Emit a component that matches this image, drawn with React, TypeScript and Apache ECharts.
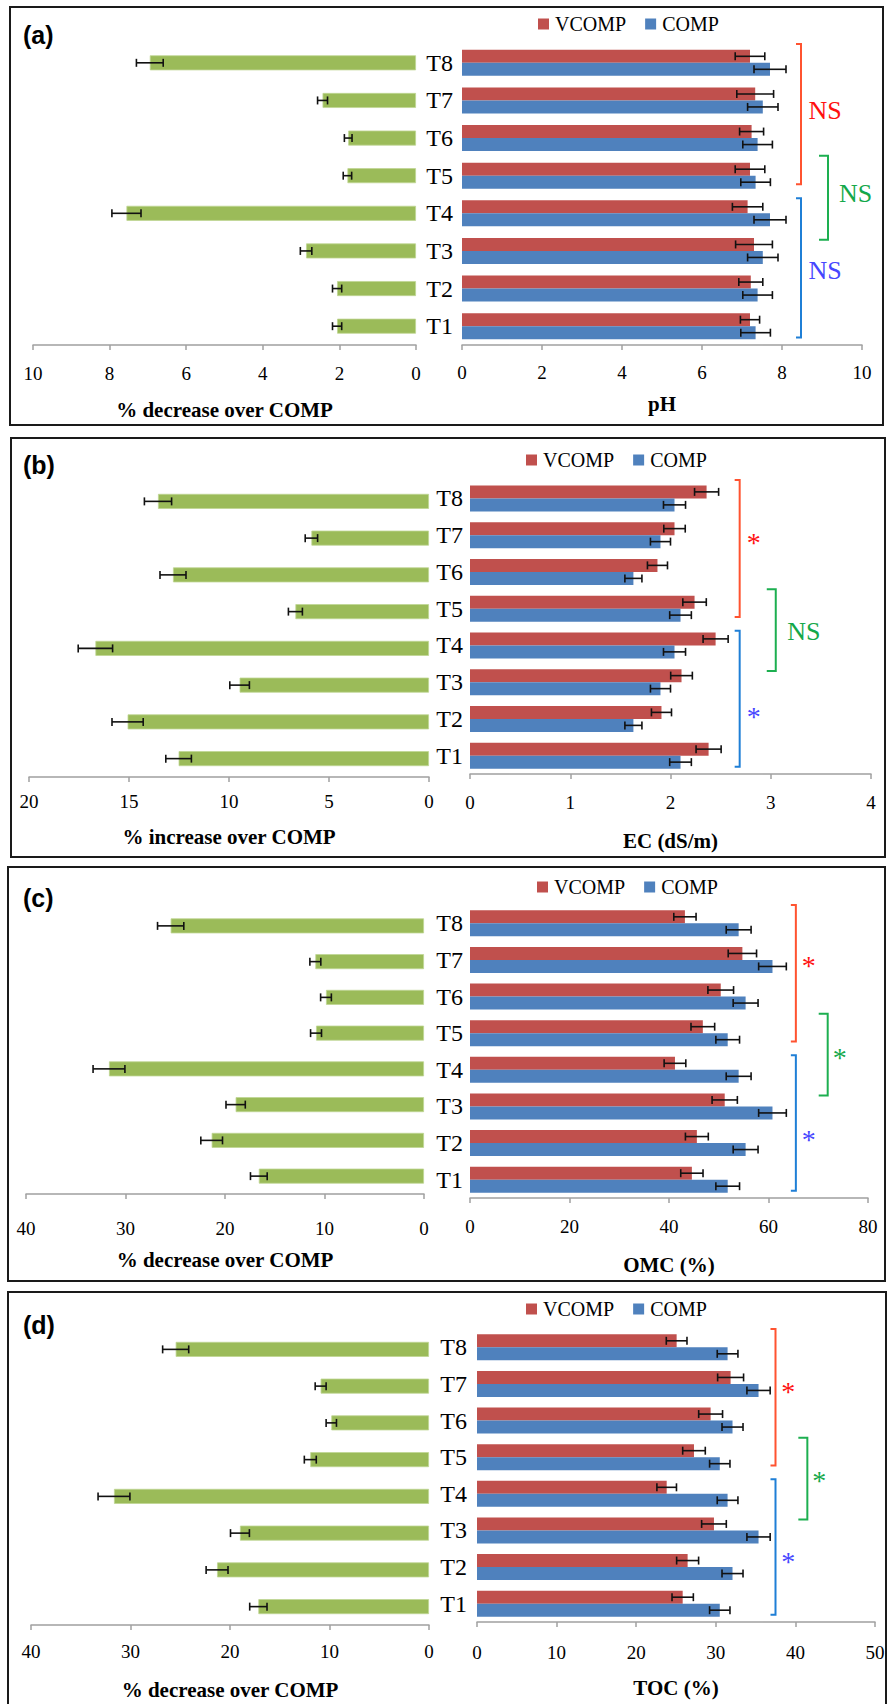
import React, { useEffect, useRef } from 'react';
import * as echarts from 'echarts';

const SERIF = '"Liberation Serif", "Times New Roman", serif';
const SANS = '"Liberation Sans", Arial, sans-serif';

const categories = ['T1', 'T2', 'T3', 'T4', 'T5', 'T6', 'T7', 'T8'];

// ---- panel (a) pH ----
const pctA = [2.06, 2.06, 2.87, 7.56, 1.79, 1.77, 2.44, 6.95];
const pctAErr = [0.12, 0.12, 0.15, 0.38, 0.11, 0.1, 0.13, 0.35];
const vcompA = [7.2, 7.22, 7.3, 7.14, 7.2, 7.24, 7.33, 7.2];
const vcompAErr = [0.24, 0.3, 0.46, 0.38, 0.37, 0.3, 0.46, 0.37];
const compA = [7.34, 7.39, 7.52, 7.7, 7.34, 7.39, 7.52, 7.7];
const compAErr = [0.37, 0.37, 0.38, 0.4, 0.37, 0.37, 0.38, 0.4];

// ---- panel (b) EC ----
const pctB = [12.52, 15.07, 9.47, 16.68, 6.68, 12.8, 5.88, 13.55];
const pctBErr = [0.64, 0.78, 0.49, 0.86, 0.35, 0.65, 0.31, 0.68];
const vcompB = [2.38, 1.91, 2.11, 2.45, 2.24, 1.87, 2.04, 2.36];
const vcompBErr = [0.125, 0.1, 0.108, 0.125, 0.117, 0.1, 0.107, 0.12];
const compB = [2.1, 1.63, 1.9, 2.04, 2.1, 1.63, 1.9, 2.04];
const compBErr = [0.108, 0.085, 0.1, 0.11, 0.108, 0.085, 0.1, 0.11];

// ---- panel (c) OMC ----
const pctC = [16.6, 21.34, 18.93, 31.66, 10.85, 9.85, 10.92, 25.46];
const pctCErr = [0.84, 1.09, 0.97, 1.6, 0.55, 0.54, 0.55, 1.32];
const vcompC = [44.6, 45.6, 51.2, 41.2, 46.8, 50.4, 54.75, 43.2];
const vcompCErr = [2.24, 2.3, 2.54, 2.18, 2.38, 2.58, 2.85, 2.24];
const compC = [51.8, 55.4, 60.8, 54.0, 51.8, 55.4, 60.8, 54.0];
const compCErr = [2.38, 2.5, 2.78, 2.5, 2.38, 2.5, 2.78, 2.5];

// ---- panel (d) TOC ----
const pctD = [17.15, 21.3, 19.0, 31.66, 11.93, 9.82, 10.89, 25.46];
const pctDErr = [0.87, 1.1, 0.95, 1.6, 0.6, 0.52, 0.55, 1.31];
const vcompD = [25.84, 26.46, 29.77, 23.83, 27.26, 29.35, 31.86, 25.08];
const vcompDErr = [1.34, 1.38, 1.55, 1.23, 1.42, 1.5, 1.63, 1.3];
const compD = [30.5, 32.1, 35.37, 31.48, 30.5, 32.1, 35.37, 31.48];
const compDErr = [1.28, 1.32, 1.46, 1.3, 1.28, 1.32, 1.46, 1.3];

const panelTags = ['(a)', '(b)', '(c)', '(d)'];
const leftTitles = ['% decrease over COMP', '% increase over COMP', '% decrease over COMP', '% decrease over COMP'];
const rightTitles = ['pH', 'EC (dS/m)', 'OMC (%)', 'TOC (%)'];
const leftMax = [10, 20, 40, 40];
const leftInterval = [2, 5, 10, 10];
const rightMax = [10, 4, 80, 50];
const rightInterval = [2, 1, 20, 10];
// significance labels: [red group T5–T8, green group T4–T5, blue group T1–T4]
const sigLabels = [
  ['NS', 'NS', 'NS'],
  ['*', 'NS', '*'],
  ['*', '*', '*'],
  ['*', '*', '*'],
];

const pctData = [pctA, pctB, pctC, pctD];
const pctErr = [pctAErr, pctBErr, pctCErr, pctDErr];
const vcompData = [vcompA, vcompB, vcompC, vcompD];
const vcompErr = [vcompAErr, vcompBErr, vcompCErr, vcompDErr];
const compData = [compA, compB, compC, compD];
const compErr = [compAErr, compBErr, compCErr, compDErr];

const RED = '#C0504D';
const BLUE = '#4F81BD';
const GREEN = '#9BBB59';
const AXIS_GRAY = '#A0A0A0';

// layout (pixels) and annotation positions (right-axis units / category index)
const layout = [
  {
    border: [10, 7, 873, 418], tagY: 35,
    lg: { left: 33, width: 383, top: 44, height: 301 },
    rg: { left: 462, width: 400, top: 44, height: 301 },
    legend: [538, 25], lMargin: 19, rMargin: 18, lGap: 54, rGap: 48, yMargin: 9,
    brX: [8.475, 9.15], txtX: [9.08, 9.84, 9.08], txtIdx: [5.72, 3.52, 1.47],
  },
  {
    border: [11, 438, 874, 419], tagY: 465,
    lg: { left: 29, width: 400, top: 483, height: 294 },
    rg: { left: 470, width: 401, top: 480, height: 294 },
    legend: [526, 461], lMargin: 15, rMargin: 19, lGap: 49, rGap: 56, yMargin: 7,
    brX: [2.69, 3.05], txtX: [2.83, 3.33, 2.83], txtIdx: [5.99, 3.38, 1.25],
  },
  {
    border: [8, 867, 877, 414], tagY: 898,
    lg: { left: 26, width: 398, top: 908, height: 286 },
    rg: { left: 470, width: 398, top: 905, height: 293 },
    legend: [537, 888], lMargin: 25, rMargin: 19, lGap: 55, rGap: 56, yMargin: 7,
    brX: [65.5, 71.9], txtX: [68.1, 74.3, 68.1], txtIdx: [6.04, 3.52, 1.3],
  },
  {
    border: [8, 1292, 878, 440], tagY: 1325,
    lg: { left: 31, width: 398, top: 1331, height: 294 },
    rg: { left: 477, width: 398, top: 1329, height: 293 },
    legend: [526, 1310], lMargin: 17, rMargin: 21, lGap: 54, rGap: 55, yMargin: 10,
    brX: [37.5, 41.5], txtX: [39.1, 43.0, 39.1], txtIdx: [5.99, 3.55, 1.34],
  },
];

const bracketSpans = { red: [7.5, 3.77], green: [4.53, 2.3], blue: [3.4, -0.3] };
const bracketColors = { red: '#FF5330', green: '#1DAF50', blue: '#1F7FD6' };
const textColors = { red: '#FF1010', green: '#14A84A', blue: '#4646FF' };

function errRender(offset: number) {
  return (params: any, api: any) => {
    const v = api.value(0);
    const c = api.value(1);
    const e = api.value(2);
    const a = api.coord([v - e, c]);
    const b = api.coord([v + e, c]);
    const y = a[1] + offset;
    const h = 4;
    const style = { stroke: '#111', lineWidth: 1.6 };
    return {
      type: 'group',
      children: [
        { type: 'line', shape: { x1: a[0], y1: y, x2: b[0], y2: y }, style },
        { type: 'line', shape: { x1: a[0], y1: y - h, x2: a[0], y2: y + h }, style },
        { type: 'line', shape: { x1: b[0], y1: y - h, x2: b[0], y2: y + h }, style },
      ],
    };
  };
}

function buildOption() {
  const grid: any[] = [];
  const xAxis: any[] = [];
  const yAxis: any[] = [];
  const series: any[] = [];
  const legend: any[] = [];

  const axisCommon = (margin: number) => ({
    type: 'value',
    splitLine: { show: false },
    axisLine: { show: true, onZero: false, lineStyle: { color: AXIS_GRAY, width: 1.5 } },
    axisTick: { show: true, length: 5, inside: false, lineStyle: { color: AXIS_GRAY, width: 1.5 } },
    axisLabel: {
      margin, color: '#000', fontSize: 19, fontFamily: SERIF,
      showMinLabel: true, showMaxLabel: true, hideOverlap: false,
    },
    nameLocation: 'middle',
    nameTextStyle: { color: '#000', fontSize: 21, fontWeight: 'bold', fontFamily: SERIF },
  });

  layout.forEach((p, k) => {
    const L = 2 * k;
    const R = 2 * k + 1;
    grid.push({ ...p.lg, containLabel: false, outerBoundsMode: 'none' });
    grid.push({ ...p.rg, containLabel: false, outerBoundsMode: 'none' });

    xAxis.push({
      ...axisCommon(p.lMargin), gridIndex: L, inverse: true,
      min: 0, max: leftMax[k], interval: leftInterval[k],
      name: leftTitles[k], nameGap: p.lGap,
    });
    xAxis.push({
      ...axisCommon(p.rMargin), gridIndex: R,
      min: 0, max: rightMax[k], interval: rightInterval[k],
      name: rightTitles[k], nameGap: p.rGap,
    });
    yAxis.push({
      gridIndex: L, type: 'category', data: categories,
      axisLine: { show: false }, axisTick: { show: false }, axisLabel: { show: false },
      splitLine: { show: false },
    });
    yAxis.push({
      gridIndex: R, type: 'category', data: categories,
      axisLine: { show: false }, axisTick: { show: false }, splitLine: { show: false },
      axisLabel: { margin: p.yMargin, color: '#000', fontSize: 24, fontFamily: SERIF },
    });

    series.push({
      name: 'diff' + k, type: 'bar', xAxisIndex: L, yAxisIndex: L,
      data: pctData[k], barWidth: 15, silent: true,
      itemStyle: { color: GREEN, borderColor: '#BFD693', borderWidth: 0.8 },
    });
    series.push({
      name: 'diffErr' + k, type: 'custom', xAxisIndex: L, yAxisIndex: L,
      data: pctData[k].map((v, i) => [v, i, pctErr[k][i]]),
      encode: { x: 0, y: 1 }, renderItem: errRender(0), clip: false, silent: true, z: 5,
    });
    series.push({
      name: 'VCOMP', type: 'bar', xAxisIndex: R, yAxisIndex: R,
      data: vcompData[k], barWidth: 13, barGap: '0%', silent: true,
      itemStyle: { color: RED },
    });
    series.push({
      name: 'COMP', type: 'bar', xAxisIndex: R, yAxisIndex: R,
      data: compData[k], barWidth: 13, barGap: '0%', silent: true,
      itemStyle: { color: BLUE },
    });
    series.push({
      name: 'vErr' + k, type: 'custom', xAxisIndex: R, yAxisIndex: R,
      data: vcompData[k].map((v, i) => [v, i, vcompErr[k][i]]),
      encode: { x: 0, y: 1 }, renderItem: errRender(-6.5), clip: false, silent: true, z: 5,
    });
    series.push({
      name: 'cErr' + k, type: 'custom', xAxisIndex: R, yAxisIndex: R,
      data: compData[k].map((v, i) => [v, i, compErr[k][i]]),
      encode: { x: 0, y: 1 }, renderItem: errRender(6.5), clip: false, silent: true, z: 5,
    });

    legend.push({
      data: ['VCOMP', 'COMP'], left: p.legend[0], top: p.legend[1] - 11,
      icon: 'rect', itemWidth: 11, itemHeight: 11, itemGap: 19, padding: 0,
      selectedMode: false,
      textStyle: { color: '#000', fontSize: 20, fontFamily: SERIF, padding: [0, 0, 0, 1] },
    });
  });

  return { animation: false, backgroundColor: '#fff', grid, xAxis, yAxis, series, legend };
}

export default function App() {
  const ref = useRef<HTMLDivElement>(null);
  useEffect(() => {
    document.body.style.margin = '0';
    const chart = echarts.init(ref.current as HTMLDivElement, null, { renderer: 'svg' });
    chart.setOption(buildOption() as any);

    const px = (k: number, xv: number, idx: number) => {
      const finder = { xAxisIndex: 2 * k + 1, yAxisIndex: 2 * k + 1 };
      const p0 = chart.convertToPixel(finder as any, [xv, 0]) as number[];
      const p1 = chart.convertToPixel(finder as any, [xv, 1]) as number[];
      return [p0[0], p0[1] + idx * (p1[1] - p0[1])];
    };

    const graphics: any[] = [];
    layout.forEach((p, k) => {
      const [bx, by, bw, bh] = p.border;
      graphics.push({
        type: 'rect', silent: true, z: 1,
        shape: { x: bx, y: by, width: bw, height: bh },
        style: { fill: 'rgba(0,0,0,0)', stroke: '#1a1a1a', lineWidth: 2 },
      });
      graphics.push({
        type: 'text', silent: true, z: 20, x: 23, y: p.tagY,
        style: {
          text: panelTags[k], fill: '#000', fontSize: 25, fontWeight: 'bold', fontFamily: SANS,
          align: 'left', verticalAlign: 'middle',
        },
      });
      const groups: Array<'red' | 'green' | 'blue'> = ['red', 'green', 'blue'];
      groups.forEach((g, gi) => {
        const xv = g === 'green' ? p.brX[1] : p.brX[0];
        const cap = g === 'green' ? 9 : 5;
        const a = px(k, xv, bracketSpans[g][0]);
        const b = px(k, xv, bracketSpans[g][1]);
        graphics.push({
          type: 'polyline', silent: true, z: 20,
          shape: { points: [[a[0] - cap, a[1]], [a[0], a[1]], [b[0], b[1]], [b[0] - cap, b[1]]] },
          style: { stroke: bracketColors[g], lineWidth: 2, fill: null },
        });
        const label = sigLabels[k][gi];
        const t = px(k, p.txtX[gi], p.txtIdx[gi]);
        graphics.push({
          type: 'text', silent: true, z: 20, x: t[0], y: t[1] + (label === '*' ? 7 : 0),
          style: {
            text: label, fill: textColors[g], fontSize: label === '*' ? 28 : 26, fontFamily: SERIF,
            align: 'center', verticalAlign: 'middle',
          },
        });
      });
    });
    chart.setOption({ graphic: graphics } as any);

    return () => chart.dispose();
  }, []);
  return <div ref={ref} style={{ width: 894, height: 1704 }} />;
}
